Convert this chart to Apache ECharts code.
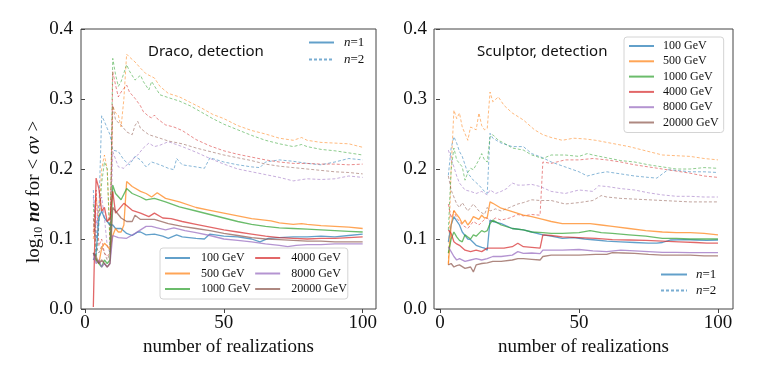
<!DOCTYPE html>
<html>
<head>
<meta charset="utf-8">
<script src="https://cdn.jsdelivr.net/npm/echarts@6/dist/echarts.min.js"></script>
<style>
  html, body { margin: 0; padding: 0; background: #fff; }
  #main { width: 758px; height: 379px; }
</style>
</head>
<body>
<div id="main"></div>
<script>
// masses and colours (matplotlib tab10)
var masses = ["100 GeV", "500 GeV", "1000 GeV", "4000 GeV", "8000 GeV", "20000 GeV"];
var colors = ["#1f77b4", "#ff7f0e", "#2ca02c", "#d62728", "#9467bd", "#8c564b"];

// ---- Draco, n=1 (solid) : [realizations, log10 n sigma]
var draco_n1_100 = [[3,0.07],[4,0.08],[5,0.13],[6,0.14],[7,0.13],[8,0.125],[9,0.12],[10,0.12],[11,0.115],[13,0.115],[15,0.108],[17,0.105],[19,0.11],[20,0.11],[22,0.106],[25,0.107],[28,0.104],[30,0.101],[33,0.106],[35,0.103],[40,0.101],[43,0.1],[45,0.107],[50,0.104],[55,0.103],[60,0.1],[63,0.096],[66,0.101],[70,0.102],[75,0.103],[80,0.103],[85,0.104],[90,0.103],[95,0.105],[100,0.107]];
var draco_n1_500 = [[3,0.08],[4,0.07],[5,0.065],[6,0.087],[7,0.094],[8,0.09],[9,0.085],[10,0.105],[11,0.115],[12,0.11],[13,0.11],[14,0.12],[15,0.182],[17,0.175],[20,0.168],[22,0.165],[24,0.16],[26,0.166],[29,0.158],[34,0.153],[40,0.145],[45,0.141],[50,0.137],[55,0.133],[60,0.129],[67,0.126],[70,0.123],[75,0.121],[78,0.122],[80,0.121],[85,0.119],[90,0.118],[95,0.117],[100,0.115]];
var draco_n1_1000 = [[3,0.08],[4,0.07],[5,0.065],[6,0.06],[7,0.07],[8,0.065],[9,0.07],[10,0.177],[11,0.165],[13,0.156],[15,0.172],[17,0.165],[20,0.16],[22,0.156],[25,0.158],[29,0.153],[34,0.146],[40,0.14],[45,0.135],[50,0.13],[55,0.125],[60,0.121],[65,0.118],[70,0.116],[75,0.115],[80,0.114],[85,0.113],[90,0.112],[95,0.111],[100,0.11]];
var draco_n1_4000 = [[3,0.003],[4,0.187],[5,0.172],[6,0.14],[7,0.145],[8,0.125],[9,0.13],[10,0.168],[11,0.137],[14,0.151],[17,0.141],[20,0.137],[23,0.132],[25,0.137],[28,0.13],[31,0.129],[35,0.125],[40,0.121],[45,0.117],[50,0.113],[55,0.11],[60,0.107],[65,0.104],[70,0.102],[75,0.101],[80,0.1],[85,0.101],[90,0.101],[95,0.102],[100,0.103]];
var draco_n1_8000 = [[3,0.08],[4,0.065],[5,0.07],[6,0.06],[7,0.065],[8,0.06],[9,0.065],[10,0.105],[12,0.102],[15,0.101],[18,0.108],[20,0.113],[22,0.118],[24,0.118],[26,0.116],[29,0.113],[32,0.116],[36,0.112],[40,0.109],[45,0.105],[50,0.1],[55,0.098],[60,0.096],[65,0.093],[70,0.091],[73,0.089],[76,0.091],[80,0.092],[85,0.092],[90,0.093],[95,0.093],[100,0.093]];
var draco_n1_20000 = [[3,0.08],[4,0.075],[5,0.065],[6,0.07],[7,0.065],[8,0.06],[9,0.065],[10,0.145],[11,0.14],[12,0.135],[13,0.13],[15,0.125],[17,0.125],[18,0.134],[20,0.128],[25,0.128],[30,0.122],[35,0.118],[40,0.115],[45,0.112],[50,0.108],[55,0.105],[60,0.102],[65,0.1],[70,0.099],[75,0.098],[80,0.097],[85,0.097],[90,0.096],[95,0.096],[100,0.096]];

// ---- Draco, n=2 (dashed)
var draco_n2_100 = [[3,0.17],[4,0.1],[5,0.14],[6,0.276],[7,0.268],[8,0.258],[9,0.249],[10,0.227],[12,0.225],[14,0.213],[16,0.206],[18,0.218],[20,0.213],[22,0.203],[24,0.21],[27,0.206],[30,0.201],[32,0.199],[33,0.215],[35,0.206],[40,0.203],[43,0.201],[45,0.216],[50,0.21],[55,0.206],[60,0.203],[63,0.202],[65,0.21],[70,0.213],[75,0.211],[80,0.208],[85,0.206],[90,0.21],[95,0.215],[100,0.213]];
var draco_n2_500 = [[3,0.1],[4,0.16],[5,0.13],[6,0.2],[7,0.22],[8,0.2],[9,0.1],[10,0.29],[11,0.28],[12,0.277],[13,0.26],[14,0.3],[15,0.364],[16,0.36],[18,0.353],[20,0.344],[22,0.336],[23,0.334],[25,0.33],[27,0.318],[30,0.308],[34,0.303],[38,0.295],[42,0.287],[46,0.278],[50,0.272],[55,0.262],[60,0.255],[65,0.25],[70,0.244],[75,0.241],[78,0.245],[80,0.241],[85,0.238],[90,0.237],[95,0.236],[100,0.231]];
var draco_n2_1000 = [[3,0.15],[4,0.07],[5,0.12],[6,0.18],[7,0.21],[8,0.2],[9,0.09],[10,0.358],[11,0.335],[12,0.318],[13,0.325],[15,0.349],[16,0.34],[18,0.327],[20,0.334],[21,0.325],[23,0.313],[24,0.325],[27,0.306],[30,0.302],[34,0.297],[38,0.29],[42,0.281],[46,0.272],[50,0.264],[55,0.256],[60,0.248],[65,0.241],[70,0.236],[75,0.232],[78,0.235],[80,0.232],[85,0.228],[90,0.226],[95,0.223],[100,0.22]];
var draco_n2_4000 = [[3,0.11],[4,0.17],[5,0.09],[6,0.1],[7,0.08],[8,0.075],[9,0.08],[10,0.339],[11,0.32],[12,0.303],[13,0.31],[15,0.32],[16,0.31],[18,0.301],[20,0.29],[21,0.282],[23,0.275],[24,0.273],[25,0.277],[26,0.272],[29,0.263],[32,0.26],[35,0.255],[40,0.242],[45,0.233],[50,0.226],[55,0.221],[60,0.217],[65,0.213],[70,0.21],[75,0.208],[80,0.208],[85,0.207],[90,0.207],[95,0.206],[100,0.207]];
var draco_n2_8000 = [[3,0.16],[4,0.12],[5,0.15],[6,0.16],[7,0.13],[8,0.09],[9,0.08],[10,0.225],[12,0.203],[14,0.201],[16,0.21],[19,0.22],[21,0.23],[23,0.237],[25,0.232],[27,0.234],[30,0.239],[35,0.232],[40,0.224],[45,0.215],[50,0.207],[55,0.2],[60,0.196],[65,0.192],[70,0.188],[75,0.183],[80,0.186],[85,0.185],[90,0.186],[95,0.19],[100,0.188]];
var draco_n2_20000 = [[3,0.13],[4,0.09],[5,0.08],[6,0.09],[7,0.08],[8,0.07],[9,0.08],[10,0.291],[11,0.27],[13,0.263],[15,0.253],[17,0.249],[18,0.262],[19,0.268],[20,0.258],[23,0.249],[27,0.244],[30,0.24],[35,0.236],[40,0.23],[45,0.225],[50,0.22],[55,0.216],[60,0.212],[65,0.207],[70,0.204],[75,0.202],[80,0.2],[85,0.198],[90,0.196],[95,0.195],[100,0.193]];

// ---- Sculptor, n=1 (solid)
var scl_n1_100 = [[3,0.096],[4,0.12],[5,0.132],[6,0.126],[7,0.12],[8,0.11],[10,0.1],[11,0.099],[13,0.091],[15,0.088],[16,0.087],[17,0.084],[18,0.127],[19,0.125],[22,0.122],[26,0.115],[30,0.113],[33,0.11],[37,0.106],[40,0.104],[44,0.101],[48,0.102],[52,0.1],[56,0.0986],[60,0.097],[65,0.096],[70,0.095],[75,0.094],[78,0.094],[80,0.095],[83,0.0986],[88,0.099],[92,0.0986],[96,0.098],[100,0.0986]];
var scl_n1_500 = [[3,0.063],[4,0.12],[5,0.141],[6,0.135],[7,0.13],[8,0.122],[9,0.127],[10,0.12],[11,0.125],[12,0.132],[14,0.128],[15,0.134],[16,0.13],[17,0.131],[18,0.153],[19,0.151],[22,0.144],[26,0.139],[30,0.134],[33,0.132],[37,0.128],[40,0.125],[44,0.122],[50,0.122],[54,0.122],[58,0.12],[62,0.118],[68,0.115],[74,0.112],[80,0.11],[85,0.109],[90,0.109],[95,0.108],[100,0.106]];
var scl_n1_1000 = [[3,0.08],[4,0.1],[5,0.11],[6,0.103],[7,0.098],[8,0.096],[9,0.106],[10,0.103],[11,0.1],[12,0.106],[13,0.104],[14,0.108],[15,0.112],[16,0.11],[17,0.112],[18,0.122],[19,0.127],[22,0.12],[26,0.115],[30,0.113],[33,0.11],[37,0.109],[40,0.108],[44,0.108],[50,0.109],[54,0.112],[58,0.109],[62,0.108],[68,0.106],[74,0.104],[80,0.101],[85,0.101],[90,0.1],[95,0.1],[100,0.1]];
var scl_n1_4000 = [[3,0.113],[4,0.108],[5,0.096],[6,0.093],[7,0.091],[9,0.084],[11,0.082],[13,0.084],[15,0.082],[17,0.087],[20,0.087],[23,0.087],[26,0.089],[28,0.094],[30,0.089],[33,0.088],[36,0.087],[37,0.106],[40,0.105],[44,0.103],[50,0.102],[56,0.101],[62,0.099],[68,0.0986],[74,0.098],[80,0.097],[86,0.096],[92,0.095],[96,0.094],[100,0.094]];
var scl_n1_8000 = [[3,0.089],[4,0.082],[5,0.075],[6,0.07],[7,0.072],[9,0.068],[11,0.07],[13,0.072],[15,0.07],[17,0.072],[19,0.075],[22,0.075],[26,0.077],[28,0.082],[30,0.0795],[33,0.08],[36,0.079],[37,0.084],[40,0.084],[44,0.084],[50,0.085],[55,0.083],[60,0.082],[65,0.084],[70,0.083],[75,0.082],[80,0.081],[85,0.081],[90,0.0805],[95,0.0805],[100,0.0805]];
var scl_n1_20000 = [[3,0.063],[4,0.065],[5,0.06],[6,0.062],[7,0.063],[9,0.058],[11,0.06],[12,0.053],[13,0.063],[15,0.065],[17,0.066],[19,0.068],[22,0.068],[26,0.07],[28,0.072],[30,0.072],[33,0.071],[36,0.07],[37,0.075],[40,0.077],[44,0.077],[50,0.077],[56,0.078],[60,0.078],[62,0.0805],[66,0.08],[70,0.0795],[75,0.078],[80,0.077],[85,0.077],[90,0.077],[95,0.076],[100,0.076]];

// ---- Sculptor, n=2 (dashed)
var scl_n2_100 = [[3,0.191],[4,0.23],[5,0.246],[6,0.237],[7,0.225],[8,0.218],[10,0.194],[12,0.184],[14,0.177],[16,0.168],[17,0.165],[18,0.251],[19,0.244],[22,0.237],[26,0.232],[30,0.232],[33,0.222],[37,0.216],[40,0.21],[45,0.203],[50,0.196],[53,0.19],[57,0.194],[60,0.196],[65,0.193],[70,0.19],[75,0.188],[78,0.187],[82,0.199],[85,0.198],[90,0.196],[95,0.196],[100,0.195]];
var scl_n2_500 = [[3,0.065],[4,0.2],[5,0.284],[6,0.272],[7,0.28],[8,0.26],[10,0.241],[11,0.26],[13,0.256],[14,0.28],[15,0.262],[16,0.256],[17,0.258],[18,0.31],[19,0.296],[21,0.303],[23,0.291],[26,0.28],[30,0.27],[34,0.256],[37,0.249],[40,0.245],[44,0.241],[48,0.244],[52,0.243],[56,0.241],[60,0.238],[64,0.235],[68,0.232],[72,0.228],[76,0.224],[80,0.22],[85,0.219],[90,0.218],[95,0.215],[100,0.213]];
var scl_n2_1000 = [[3,0.113],[4,0.199],[5,0.23],[6,0.213],[7,0.208],[8,0.203],[9,0.184],[10,0.195],[11,0.201],[12,0.199],[14,0.213],[15,0.222],[16,0.213],[17,0.21],[18,0.246],[19,0.249],[21,0.241],[23,0.237],[26,0.23],[30,0.227],[33,0.22],[37,0.215],[40,0.22],[45,0.22],[50,0.218],[53,0.222],[55,0.22],[60,0.216],[65,0.212],[70,0.21],[75,0.206],[80,0.203],[85,0.2],[90,0.2],[95,0.202],[100,0.201]];
var scl_n2_4000 = [[3,0.15],[4,0.13],[5,0.14],[6,0.13],[7,0.125],[8,0.12],[10,0.115],[12,0.125],[14,0.12],[16,0.128],[17,0.13],[18,0.125],[20,0.13],[22,0.127],[25,0.13],[28,0.135],[30,0.133],[33,0.135],[36,0.134],[37,0.21],[40,0.208],[45,0.213],[50,0.213],[55,0.215],[60,0.213],[65,0.21],[70,0.206],[75,0.203],[80,0.2],[85,0.197],[90,0.194],[95,0.19],[100,0.188]];
var scl_n2_8000 = [[3,0.227],[4,0.215],[5,0.203],[6,0.19],[7,0.18],[9,0.17],[11,0.168],[13,0.165],[15,0.168],[17,0.163],[18,0.17],[20,0.165],[22,0.168],[24,0.172],[26,0.18],[28,0.177],[30,0.177],[33,0.178],[36,0.175],[40,0.168],[45,0.165],[50,0.17],[55,0.168],[57,0.176],[60,0.175],[65,0.172],[70,0.17],[75,0.166],[80,0.163],[85,0.161],[90,0.161],[95,0.16],[100,0.16]];
var scl_n2_20000 = [[3,0.19],[4,0.17],[5,0.16],[6,0.15],[7,0.145],[8,0.152],[10,0.14],[12,0.15],[14,0.14],[16,0.135],[17,0.145],[18,0.14],[20,0.143],[22,0.14],[25,0.145],[28,0.15],[30,0.152],[33,0.156],[36,0.155],[40,0.155],[45,0.15],[50,0.152],[55,0.155],[58,0.162],[60,0.16],[65,0.158],[70,0.157],[75,0.156],[80,0.155],[85,0.154],[90,0.153],[95,0.153],[100,0.153]];

var yTicks = [0, 0.1, 0.2, 0.3, 0.4];
var xTicks = [0, 50, 100];

var draco_n1 = [draco_n1_100, draco_n1_500, draco_n1_1000, draco_n1_4000, draco_n1_8000, draco_n1_20000];
var draco_n2 = [draco_n2_100, draco_n2_500, draco_n2_1000, draco_n2_4000, draco_n2_8000, draco_n2_20000];
var scl_n1 = [scl_n1_100, scl_n1_500, scl_n1_1000, scl_n1_4000, scl_n1_8000, scl_n1_20000];
var scl_n2 = [scl_n2_100, scl_n2_500, scl_n2_1000, scl_n2_4000, scl_n2_8000, scl_n2_20000];

var serif = "Liberation Serif";

function line(name, data, color, dashed, idx) {
    return {
        name: name,
        type: "line",
        xAxisIndex: idx,
        yAxisIndex: idx,
        data: data,
        symbol: "none",
        color: color,
        silent: true,
        lineStyle: {
            color: color,
            width: dashed ? 0.9 : 1.3,
            type: dashed ? [3, 2] : "solid",
            opacity: dashed ? 0.6 : 0.7,
        },
        z: dashed ? 2 : 3,
    };
}

var series = [];
for (let i = 0; i < 6; i++) {
    series.push(line(masses[i], draco_n1[i], colors[i], false, 0));
}
for (let i = 0; i < 6; i++) {
    series.push(line(masses[i], draco_n2[i], colors[i], true, 0));
}
for (let i = 0; i < 6; i++) {
    series.push(line(masses[i], scl_n1[i], colors[i], false, 1));
    series.push(line(masses[i], scl_n2[i], colors[i], true, 1));
}
// legend only entries for n=1 / n=2
series.push(line("n=1", [], "#1f77b4", false, 0));
series.push(line("n=2", [], "#1f77b4", true, 0));

function xAxis(idx, min, max) {
    return {
        type: "value",
        gridIndex: idx,
        min: min,
        max: max,
        splitLine: { show: false },
        axisLine: { show: false },
        axisTick: { show: true, length: 4, customValues: xTicks, lineStyle: { color: "#444" } },
        axisLabel: {
            customValues: xTicks,
            margin: 5,
            fontFamily: serif,
            fontSize: 19,
            color: "#111",
        },
        name: "number of realizations",
        nameLocation: "middle",
        nameGap: 26,
        nameTextStyle: { fontFamily: serif, fontSize: 19, color: "#111" },
    };
}

function yAxis(idx, margin) {
    return {
        type: "value",
        gridIndex: idx,
        min: 0,
        max: 0.4,
        interval: 0.1,
        splitLine: { show: false },
        axisLine: { show: false },
        axisTick: { show: true, length: 4, lineStyle: { color: "#444" } },
        axisLabel: {
            margin: margin,
            fontFamily: serif,
            fontSize: 19,
            color: "#111",
            formatter: function (v) { return v.toFixed(1); },
        },
    };
}

var massLegendText = { fontFamily: serif, fontSize: 12, color: "#111" };
var nRich = {
    i: { fontFamily: serif, fontStyle: "italic", fontSize: 13, color: "#111" },
    r: { fontFamily: serif, fontSize: 13, color: "#111" },
};
function nFormatter(name) {
    return "{i|n}{r|" + name.slice(1) + "}";
}
// hide the round marker that line series put in legend icons
var noMarker = { opacity: 0, borderWidth: 0 };

var option = {
    animation: false,
    backgroundColor: "#fff",
    grid: [
        { left: 81, top: 29, width: 295, height: 280, show: true, borderColor: "#444", borderWidth: 1 },
        { left: 434, top: 29, width: 299, height: 280, show: true, borderColor: "#444", borderWidth: 1 },
    ],
    xAxis: [xAxis(0, -1.44, 104.8), xAxis(1, -2.16, 105.4)],
    yAxis: [yAxis(0, 8), yAxis(1, 7)],
    legend: [
        {
            data: masses,
            orient: "vertical",
            left: 160,
            top: 248,
            height: 52,
            padding: [4, 1, 4, 4],
            itemWidth: 25,
            itemHeight: 14,
            itemGap: 3.5,
            selectedMode: false,
            itemStyle: noMarker,
            backgroundColor: "#fff",
            borderColor: "#d4d4d4",
            borderWidth: 1,
            borderRadius: 3,
            textStyle: Object.assign({ width: 68, padding: [0, 0, 0, 6] }, massLegendText),
            z: 10,
        },
        {
            data: ["n=1", "n=2"],
            orient: "vertical",
            left: 308,
            top: 36,
            padding: 0,
            itemWidth: 25,
            itemHeight: 14,
            itemGap: 4,
            selectedMode: false,
            itemStyle: noMarker,
            formatter: nFormatter,
            textStyle: { padding: [0, 0, 0, 5], rich: nRich },
        },
        {
            data: masses,
            orient: "vertical",
            left: 624,
            top: 37,
            padding: [3, 5, 4, 4],
            itemWidth: 25,
            itemHeight: 14,
            itemGap: 3.3,
            selectedMode: false,
            itemStyle: noMarker,
            backgroundColor: "#fff",
            borderColor: "#d4d4d4",
            borderWidth: 1,
            borderRadius: 3,
            textStyle: Object.assign({ width: 58, padding: [0, 0, 0, 4] }, massLegendText),
            z: 10,
        },
        {
            data: ["n=1", "n=2"],
            orient: "vertical",
            left: 660,
            top: 268,
            padding: 0,
            itemWidth: 26,
            itemHeight: 14,
            itemGap: 3,
            selectedMode: false,
            itemStyle: noMarker,
            formatter: nFormatter,
            textStyle: { padding: [0, 0, 0, 4], rich: nRich },
        },
    ],
    graphic: [
        {
            type: "text",
            x: 148,
            y: 52,
            style: {
                text: "Draco, detection",
                font: "15px 'Noto Sans'",
                fill: "#111",
                verticalAlign: "middle",
            },
        },
        {
            type: "text",
            x: 477,
            y: 52,
            style: {
                text: "Sculptor, detection",
                font: "15px 'Noto Sans'",
                fill: "#111",
                verticalAlign: "middle",
            },
        },
        {
            type: "text",
            x: 34,
            y: 192,
            rotation: Math.PI / 2,
            style: {
                text: "{r|log}{s|10}{b| nσ}{r| for < }{i|σv}{r| >}",
                align: "center",
                verticalAlign: "middle",
                rich: {
                    r: { fontFamily: serif, fontSize: 19, fill: "#111", lineHeight: 22, verticalAlign: "middle" },
                    s: { fontFamily: serif, fontSize: 12, fill: "#111", lineHeight: 22, verticalAlign: "bottom" },
                    b: { fontFamily: serif, fontSize: 19, fontStyle: "italic", fontWeight: "bold", fill: "#111", lineHeight: 22, verticalAlign: "middle" },
                    i: { fontFamily: serif, fontSize: 19, fontStyle: "italic", fill: "#111", lineHeight: 22, verticalAlign: "middle" },
                },
            },
        },
    ],
    series: series,
};

var myChart = echarts.init(document.getElementById("main"));
myChart.setOption(option);
</script>
</body>
</html>
